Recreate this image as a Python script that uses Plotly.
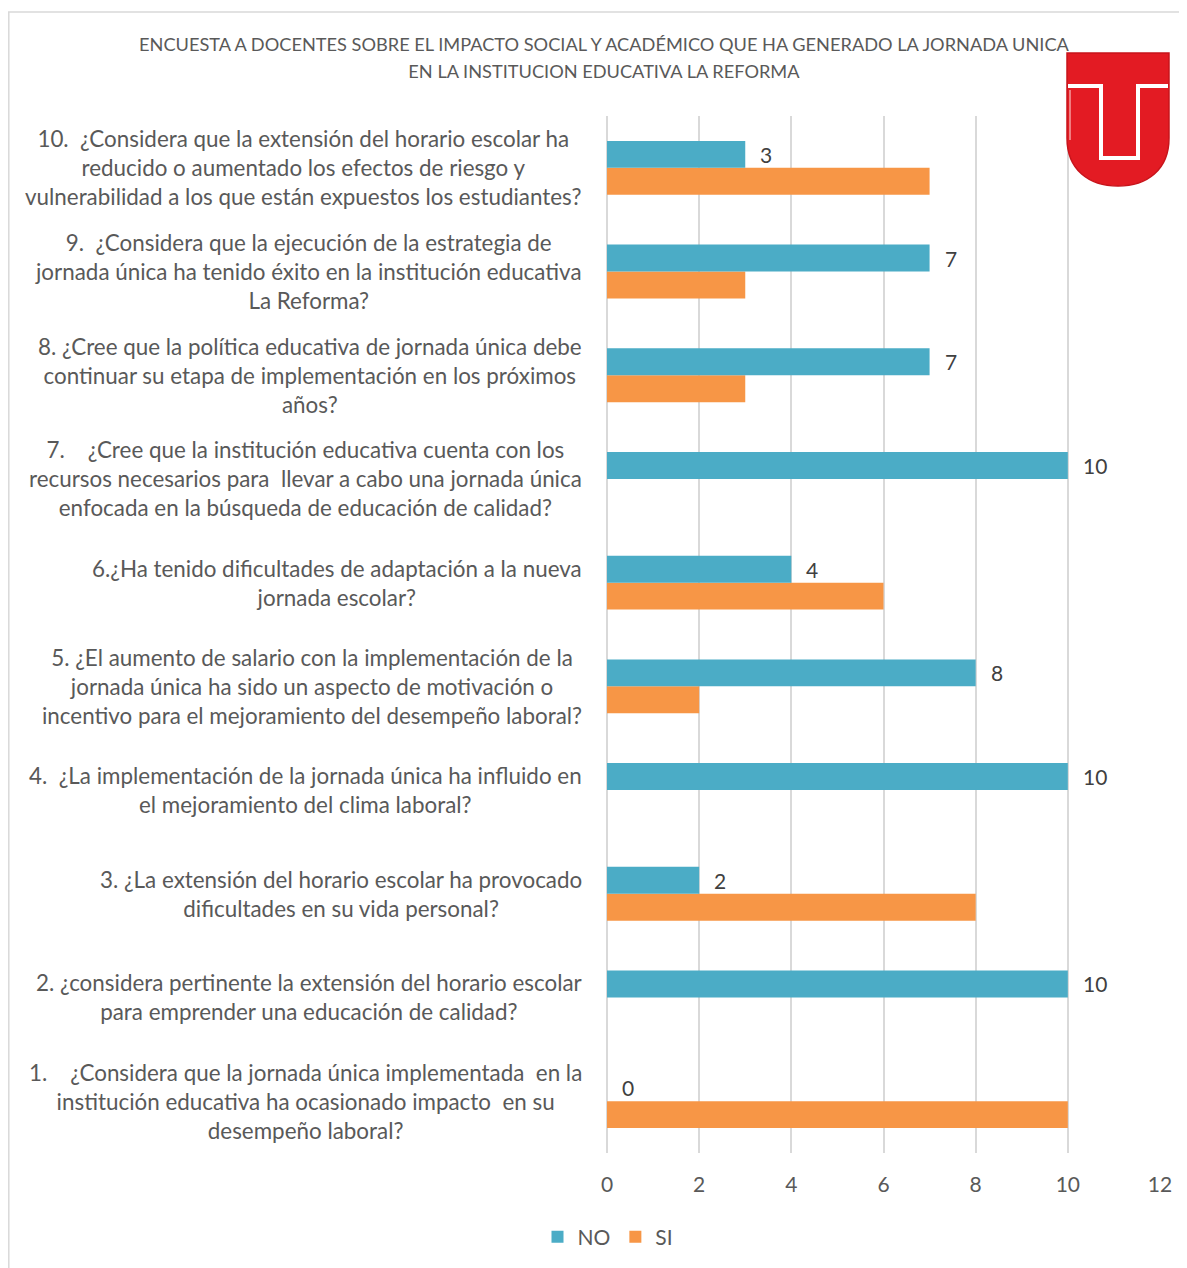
import plotly.graph_objects as go

# ---------------- data ----------------
question_num = [1, 2, 3, 4, 5, 6, 7, 8, 9, 10]
question_labels = [
    "1.    ¿Considera que la jornada única implementada  en la<br>institución educativa ha ocasionado impacto  en su<br>desempeño laboral?",
    "2. ¿considera pertinente la extensión del horario escolar<br>para emprender una educación de calidad?",
    "3. ¿La extensión del horario escolar ha provocado<br>dificultades en su vida personal?",
    "4.  ¿La implementación de la jornada única ha influido en<br>el mejoramiento del clima laboral?",
    "5. ¿El aumento de salario con la implementación de la<br>jornada única ha sido un aspecto de motivación o<br>incentivo para el mejoramiento del desempeño laboral?",
    "6.¿Ha tenido dificultades de adaptación a la nueva<br>jornada escolar?",
    "7.    ¿Cree que la institución educativa cuenta con los<br>recursos necesarios para  llevar a cabo una jornada única<br>enfocada en la búsqueda de educación de calidad?",
    "8. ¿Cree que la política educativa de jornada única debe<br>continuar su etapa de implementación en los próximos<br>años?",
    "9.  ¿Considera que la ejecución de la estrategia de<br>jornada única ha tenido éxito en la institución educativa<br>La Reforma?",
    "10.  ¿Considera que la extensión del horario escolar ha<br>reducido o aumentado los efectos de riesgo y<br>vulnerabilidad a los que están expuestos los estudiantes?",
]
no_values = [0, 10, 2, 10, 8, 4, 10, 7, 7, 3]
si_values = [10, 0, 8, 0, 2, 6, 0, 3, 3, 7]
x_ticks = [0, 2, 4, 6, 8, 10, 12]
title_lines = [
    "ENCUESTA A DOCENTES SOBRE EL IMPACTO SOCIAL Y ACADÉMICO QUE HA GENERADO LA JORNADA UNICA",
    "EN LA INSTITUCION EDUCATIVA LA REFORMA",
]

NO_COLOR = "#4BACC6"
SI_COLOR = "#F79646"
FONT = "Lato, 'Open Sans', sans-serif"
GRAY = "#595959"

# page has an 8px body margin, so the figure is laid out 8px smaller
OFF = 8
W, H = 1187 - OFF, 1268 - OFF
ML, MR, MT, MB = 599, 27, 108, 115
PW = W - ML - MR
PH = H - MT - MB


def px(x):  # screenshot x -> paper
    return (x - OFF - ML) / PW


def py(y):  # screenshot y -> paper
    return (H - MB - (y - OFF)) / PH


fig = go.Figure()
fig.add_trace(go.Bar(
    name="SI", y=question_num, x=si_values, orientation="h",
    marker=dict(color=SI_COLOR, line=dict(width=0)), legendrank=2,
    hoverinfo="x+name",
))
fig.add_trace(go.Bar(
    name="NO", y=question_num, x=no_values, orientation="h",
    marker=dict(color=NO_COLOR, line=dict(width=0)), legendrank=1,
    hoverinfo="x+name",
))

annotations = []
# category labels
for q, lab in zip(question_num, question_labels):
    lines = lab.split("<br>")
    txt = "<br>".join('<span style="font-size:22.4px">%s</span>' % ln for ln in lines)
    annotations.append(dict(
        x=px(584), xref="paper", y=q, yref="y", text=txt,
        xanchor="right", yanchor="middle", align="center", showarrow=False,
        font=dict(family=FONT, size=22.3, color=GRAY),
    ))
# data labels (NO series)
for q, v in zip(question_num, no_values):
    annotations.append(dict(
        x=v, xref="x", y=q, yref="y", text=str(v),
        xanchor="left", yanchor="middle", xshift=13, yshift=13.5,
        showarrow=False, font=dict(family=FONT, size=21, color="#404040"),
    ))
# title
ttxt = "<br>".join('<span style="font-size:18.2px">%s</span>' % ln for ln in title_lines)
annotations.append(dict(
    x=px(604.5), xref="paper", y=py(57.5), yref="paper", text=ttxt,
    xanchor="center", yanchor="middle", align="center", showarrow=False,
    font=dict(family=FONT, size=20.8, color=GRAY),
))

shapes = [
    # chart border (left and top)
    dict(type="line", xref="paper", yref="paper", x0=px(8.8), x1=px(8.8), y0=py(12), y1=py(1268),
         line=dict(color="#D9D9D9", width=1.5)),
    dict(type="line", xref="paper", yref="paper", x0=px(8), x1=px(1187), y0=py(12), y1=py(12),
         line=dict(color="#D9D9D9", width=1.5)),
]


def path(points_cmds):
    out = []
    for cmd, pts in points_cmds:
        coords = " ".join("%.5f,%.5f" % (px(a), py(b)) for a, b in pts)
        out.append(cmd + " " + coords if coords else cmd)
    return " ".join(out)


# logo (decoration)
logo_outer = path([
    ("M", [(1067, 53)]), ("L", [(1169, 53)]), ("L", [(1169, 138)]),
    ("C", [(1169, 170), (1147, 186), (1118, 186)]),
    ("C", [(1089, 186), (1067, 170), (1067, 138)]), ("Z", []),
])
shapes.append(dict(type="path", xref="paper", yref="paper", path=logo_outer,
                   fillcolor="#E31B23", line=dict(color="#C8141B", width=1.5)))
logo_t = path([
    ("M", [(1068, 86)]), ("L", [(1101, 86)]), ("L", [(1101, 158)]),
    ("L", [(1138, 158)]), ("L", [(1138, 86)]), ("L", [(1168, 86)]),
])
shapes.append(dict(type="path", xref="paper", yref="paper", path=logo_t,
                   line=dict(color="#FFFFFF", width=4)))
logo_l = path([("M", [(1070, 90)]), ("L", [(1070, 140)])])
shapes.append(dict(type="path", xref="paper", yref="paper", path=logo_l,
                   line=dict(color="#F4A0A0", width=1.5)))

fig.update_layout(
    width=W, height=H,
    margin=dict(l=ML, r=MR, t=MT, b=MB, autoexpand=False),
    paper_bgcolor="white", plot_bgcolor="white",
    barmode="group", bargap=0.48, bargroupgap=0,
    showlegend=True,
    legend=dict(orientation="h", x=px(608), xanchor="center", y=py(1237), yanchor="middle",
                font=dict(family=FONT, size=21, color=GRAY), itemwidth=30,
                traceorder="normal"),
    xaxis=dict(range=[0, 12], tickvals=x_ticks, showgrid=True, gridcolor="#D9D9D9", gridwidth=1.5,
               zeroline=True, zerolinecolor="#D9D9D9", zerolinewidth=1.5, showline=False, ticks="",
               tickfont=dict(family=FONT, size=21, color=GRAY), ticklabelstandoff=17,
               fixedrange=True),
    yaxis=dict(range=[0.5, 10.5], showticklabels=False, showgrid=False, zeroline=False,
               showline=False, ticks="", fixedrange=True),
    annotations=annotations,
    shapes=shapes,
    font=dict(family=FONT, color=GRAY),
)

fig.write_html("out.html")
